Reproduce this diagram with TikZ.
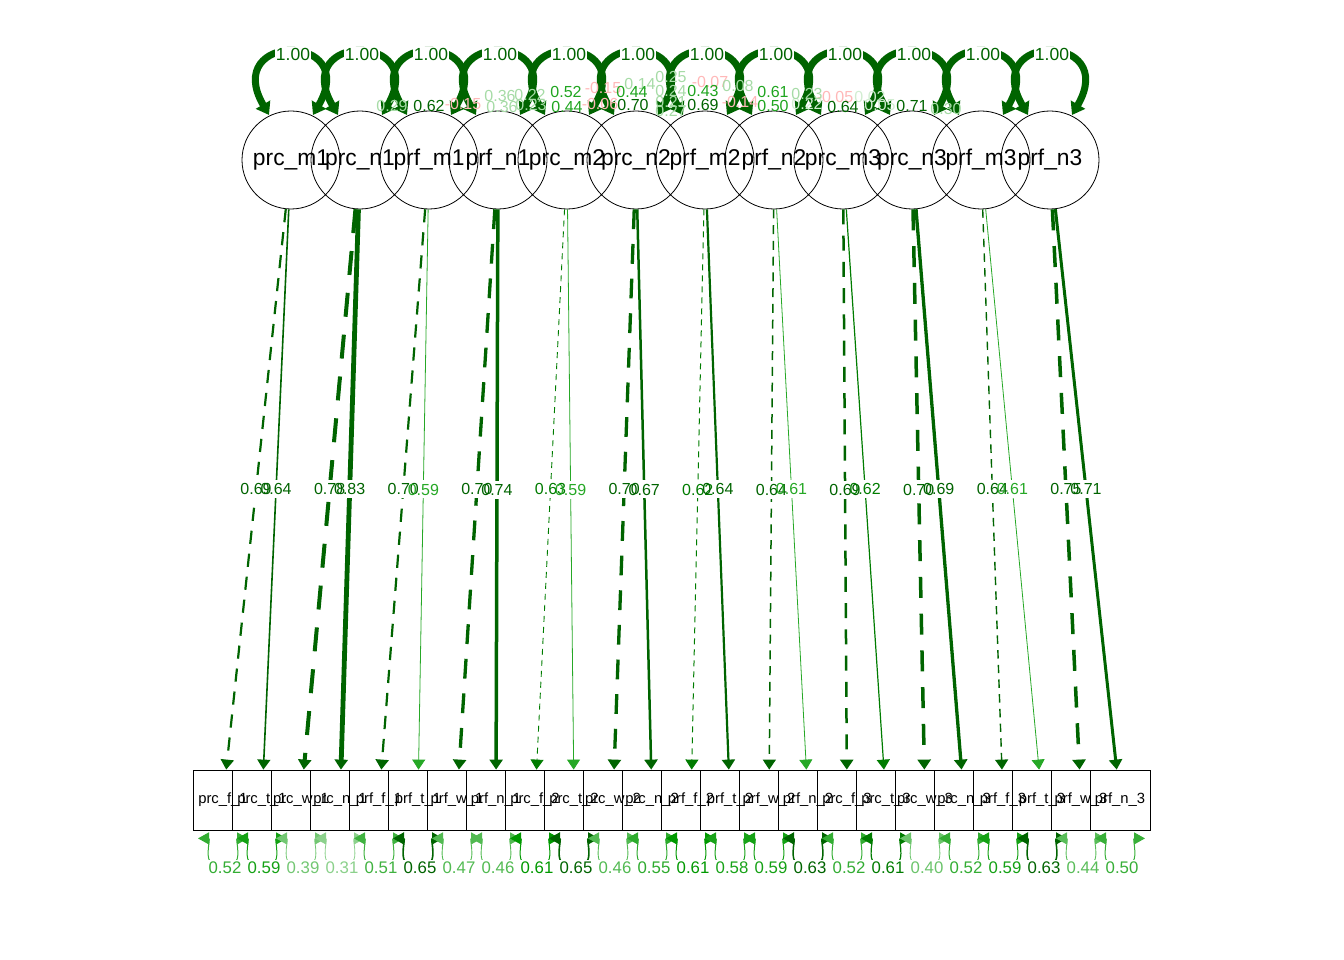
\documentclass[tikz,border=0pt]{standalone}
\usepackage{fontspec}
\setmainfont{Liberation Sans}
\usetikzlibrary{arrows.meta,calc}
\definecolor{dg}{RGB}{0,100,0}
\definecolor{g9}{HTML}{009900}
\colorlet{gm}{dg!55!g9}
\colorlet{gl}{g9!85!white}
\colorlet{cm}{g9!88!white}
\colorlet{cl}{g9!35!white}
\colorlet{cf}{g9!18!white}
\colorlet{cr}{red!28!white}
\begin{document}
\begin{tikzpicture}[x=1pt,y=-1pt,
  lat/.style={circle,draw=black,line width=0.8pt,minimum size=98pt,inner sep=0pt,font=\fontsize{22.8}{25}\selectfont},
  obs/.style={rectangle,draw=black,fill=white,line width=0.8pt,minimum width=60pt,minimum height=60pt,inner sep=0pt},
  obslab/.style={inner sep=0pt,font=\fontsize{14.8}{16}\selectfont},
  ldarrow/.style={-{Triangle[length=10pt,width=13pt]}},
  ldlab/.style={inner sep=0pt,font=\fontsize{16}{18}\selectfont},
  varloop/.style={dg,line width=7pt,{Triangle[length=12pt,width=16pt]}-{Triangle[length=12pt,width=16pt]}},
  varlab/.style={fill=white,inner sep=1pt,text=dg,font=\fontsize{17.5}{19}\selectfont},
  resarrow/.style={{Triangle[length=11pt,width=12pt]}-{Triangle[length=11pt,width=12pt]}},
  reslab/.style={fill=white,inner sep=1.5pt,font=\fontsize{16.8}{18}\selectfont},
  covlab/.style={inner sep=0pt,font=\fontsize{16}{18}\selectfont}]
\path[use as bounding box] (0,0) rectangle (1344,960);

% latent variables
\foreach \nm [count=\k] in {prc\_m1,prc\_n1,prf\_m1,prf\_n1,prc\_m2,prc\_n2,prf\_m2,prf\_n2,prc\_m3,prc\_n3,prf\_m3,prf\_n3}
  \node[lat] (L\k) at ({291+69*(\k-1)},160) {\nm};

% observed boxes (drawn in order, each covering the previous)
\foreach \j in {1,...,24}
  \node[obs] (B\j) at ({223+39*(\j-1)},800) {};
\foreach \nm [count=\j] in {prc\_f\_1,prc\_t\_1,prc\_w\_1,prc\_n\_1,prf\_f\_1,prf\_t\_1,prf\_w\_1,prf\_n\_1,prc\_f\_2,prc\_t\_2,prc\_w\_2,prc\_n\_2,prf\_f\_2,prf\_t\_2,prf\_w\_2,prf\_n\_2,prc\_f\_3,prc\_t\_3,prc\_w\_3,prc\_n\_3,prf\_f\_3,prf\_t\_3,prf\_w\_3,prf\_n\_3}
  \node[obslab] (T\j) at (B\j) {\nm};

% loadings: box / latent / value / width / colour / dashed
\def\ldlist{1/1/0.69/2.2/dg/1, 2/1/0.64/1.6/dg/0,
  3/2/0.78/4.0/dg/1, 4/2/0.83/4.8/dg/0,
  5/3/0.70/2.2/dg/1, 6/3/0.59/0.8/gl/0,
  7/4/0.70/3.3/dg/1, 8/4/0.74/3.5/dg/0,
  9/5/0.63/0.9/gm/1, 10/5/0.59/0.8/gl/0,
  11/6/0.70/3.3/dg/1, 12/6/0.67/2.5/dg/0,
  13/7/0.62/1.0/gm/1, 14/7/0.64/2.2/dg/0,
  15/8/0.64/1.5/dg/1, 16/8/0.61/0.8/gl/0,
  17/9/0.69/2.5/dg/1, 18/9/0.62/1.2/gm/0,
  19/10/0.70/3.5/dg/1, 20/10/0.69/3.3/dg/0,
  21/11/0.64/1.4/dg/1, 22/11/0.61/0.8/gl/0,
  23/12/0.75/3.5/dg/1, 24/12/0.71/3.0/dg/0}
\foreach \j/\k/\lam/\w/\c/\d in \ldlist {
  \pgfmathsetmacro\don{max(6,6*\w)}
  \pgfmathsetmacro\doff{max(5,4.5*\w)}
  \ifnum\d=1
    \draw[ldarrow,color=\c,line width=\w pt,dash pattern=on \don pt off \doff pt] (L\k) -- coordinate[pos=0.5] (M\j) (B\j);
  \else
    \draw[ldarrow,color=\c,line width=\w pt] (L\k) -- coordinate[pos=0.5] (M\j) (B\j);
  \fi
}
\foreach \j in {1,...,24}
  \fill[white] ($(M\j)+(-15,-9)$) rectangle ($(M\j)+(15,9)$);
\foreach \j/\k/\lam/\w/\c/\d in \ldlist
  \node[ldlab,text=\c] (N\j) at (M\j) {\lam};

% residual variances of observed variables
\def\reslist{1/0.52/g9!80!white/1.0, 2/0.59/g9!92!white/1.0, 3/0.39/g9!55!white/0.8,
  4/0.31/g9!45!white/0.8, 5/0.51/g9!75!white/1.0, 6/0.65/dg/1.6,
  7/0.47/g9!68!white/0.9, 8/0.46/g9!68!white/0.9, 9/0.61/g9/1.0,
  10/0.65/dg/1.6, 11/0.46/g9!68!white/0.9, 12/0.55/g9!82!white/1.0,
  13/0.61/g9/1.0, 14/0.58/g9!90!white/1.0, 15/0.59/g9!92!white/1.0,
  16/0.63/dg/1.5, 17/0.52/g9!80!white/1.0, 18/0.61/gm/1.2,
  19/0.40/g9!58!white/0.8, 20/0.52/g9!80!white/1.0, 21/0.59/g9!92!white/1.0,
  22/0.63/dg/1.5, 23/0.44/g9!65!white/0.9, 24/0.50/g9!78!white/1.0}
\foreach \j/\v/\c/\w in \reslist
  \draw[resarrow,color=\c,line width=\w pt]
    ($(B\j.south)+(-25,8)$) .. controls +(14,0) and +(-24,0) .. ($(B\j.south)+(0,38)$)
    .. controls +(24,0) and +(-14,0) .. ($(B\j.south)+(25,8)$);
\foreach \j/\v/\c/\w in \reslist
  \node[reslab,text=\c] (R\j) at ($(B\j.south)+(2,37)$) {\v};

% latent variances
\foreach \k in {1,...,12}
  \draw[varloop] ($(L\k)+(-22,-45)$) .. controls +(-48,-83) and +(48,-83) .. ($(L\k)+(22,-45)$);
\foreach \k in {1,...,12}
  \node[varlab] (V\k) at ($(L\k)+(2,-106)$) {1.00};

% covariance labels among latent variables
\foreach \x/\y/\t/\c [count=\i] in {
  600/104/-0.06/cr, 807/104/0.22/cf, 870/97/0.02/cf, 880/105/0.05/cf,
  463/104/-0.15/cr, 603/88/-0.15/cr, 710/82/-0.07/cr, 740/102/-0.14/cr, 835/97/-0.05/cr,
  392/106/0.29/cl, 500/96/0.36/cl, 502/107/0.36/cl, 530/95/0.22/cl, 531/105/0.23/cl,
  640/84/0.14/cl, 671/77/0.25/cl, 671/91/0.24/cl, 671/102/0.21/cl, 671/111/0.27/cl,
  738/86/0.08/cl, 807/94/0.23/cl, 946/109/0.30/cl,
  566/92/0.52/cm, 567/107/0.44/cm, 632/92/0.44/cm, 703/91/0.43/cm, 773/92/0.61/cm, 773/106/0.50/cm,
  429/106/0.62/dg, 633/105/0.70/dg, 703/105/0.69/dg, 843/107/0.64/dg, 912/106/0.71/dg}
  \node[covlab,text=\c] (C\i) at (\x,\y) {\t};
\end{tikzpicture}
\end{document}
